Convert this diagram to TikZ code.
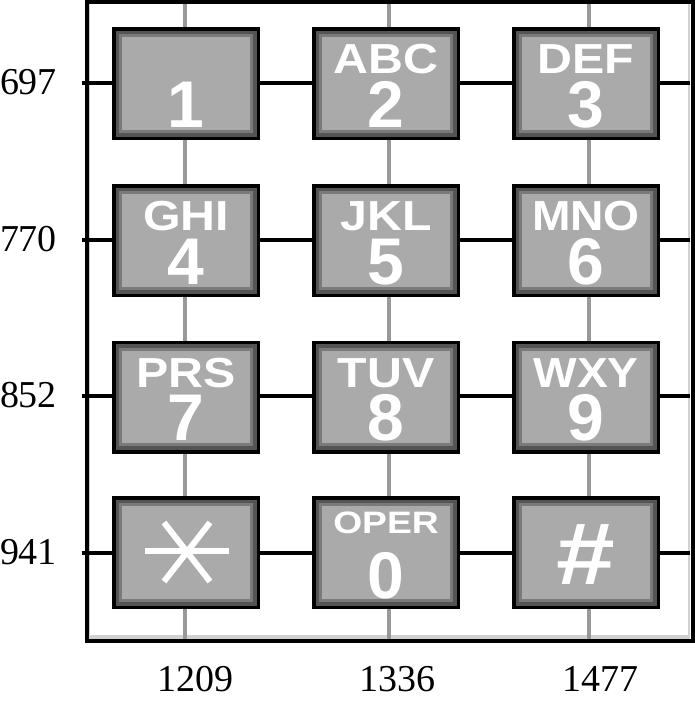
\documentclass[tikz,border=0pt]{standalone}
\usepackage{fontspec}
\setmainfont{Liberation Serif}
\setsansfont{Liberation Sans}
\definecolor{keydark}{gray}{0.33}
\definecolor{keymid}{gray}{0.48}
\definecolor{keyface}{gray}{0.665}
\definecolor{colgray}{gray}{0.6}
\definecolor{frameshade}{gray}{0.82}
\newcommand{\widetxt}[2]{\scalebox{#1}[1]{#2}}

\begin{document}
\begin{tikzpicture}[
          x=1pt, y=-1pt,
          rowline/.style={draw=black,line width=3.5pt},
          colline/.style={draw=colgray,line width=4pt},
          key/.style={draw=black,line width=3.5pt,fill=keydark,inner sep=0pt,
            minimum width=144.5pt,minimum height=109.5pt,
            path picture={
              \fill[keymid] ([shift={(5.5,5.5)}]path picture bounding box.north west)
                rectangle ([shift={(-5.5,-5.5)}]path picture bounding box.south east);
              \fill[keyface] ([shift={(8.5,8.5)}]path picture bounding box.north west)
                rectangle ([shift={(-8.5,-8.5)}]path picture bounding box.south east);
            }},
          digit/.style={text=white,inner sep=0pt,text height=47pt,text depth=0pt,
            font=\sffamily\bfseries\fontsize{66}{66}\selectfont},
          letters/.style={text=white,inner sep=0pt,text height=30pt,text depth=0pt,
            font=\sffamily\bfseries\fontsize{42}{42}\selectfont},
          small/.style={text=white,inner sep=0pt,text height=22pt,text depth=0pt,
            font=\sffamily\bfseries\fontsize{31}{31}\selectfont},
          freq/.style={inner sep=0pt,font=\fontsize{38}{38}\selectfont},
          star/.style={draw=white,line width=6pt},
        ]
        \useasboundingbox (0,0) rectangle (695,704);

        % inner shade of the frame
        \draw[frameshade,line width=4pt] (89,637) -- (690,637);
        \draw[frameshade,line width=2pt] (689,4) -- (689,639);
        \draw[frameshade,line width=1pt] (89.5,4) -- (89.5,639);

        % row and column lines
        \coordinate (r1w) at (82,83);   \coordinate (r1e) at (690,83);
        \coordinate (r2w) at (82,240);  \coordinate (r2e) at (690,240);
        \coordinate (r3w) at (82,396);  \coordinate (r3e) at (690,396);
        \coordinate (r4w) at (82,553);  \coordinate (r4e) at (690,553);
        \coordinate (c1n) at (185,3);   \coordinate (c1s) at (185,639);
        \coordinate (c2n) at (389,3);   \coordinate (c2s) at (389,639);
        \coordinate (c3n) at (589,3);   \coordinate (c3s) at (589,639);

        \draw[colline] (c1n) -- (c1s);
        \draw[colline] (c2n) -- (c2s);
        \draw[colline] (c3n) -- (c3s);
        \draw[rowline] (r1w) -- (r1e);
        \draw[rowline] (r2w) -- (r2e);
        \draw[rowline] (r3w) -- (r3e);
        \draw[rowline] (r4w) -- (r4e);

        \draw[line width=4pt] (86.5,1.5) rectangle (692.5,641);

        % keys
        \node[key] (k1) at (186,83.5) {};
        \node[key] (k2) at (386,83.5) {};
        \node[key] (k3) at (586,83.5) {};
        \node[key] (k4) at (186,240.5) {};
        \node[key] (k5) at (386,240.5) {};
        \node[key] (k6) at (586,240.5) {};
        \node[key] (k7) at (186,397) {};
        \node[key] (k8) at (386,397) {};
        \node[key] (k9) at (586,397) {};
        \node[key] (kstar) at (186,552.5) {};
        \node[key] (k0) at (386,552.5) {};
        \node[key] (khash) at (586,552.5) {};

        \node[digit] (d1) at ([yshift=-20pt]k1.center) {1};
        \node[digit] (d2) at ([yshift=-20pt]k2.center) {2};
        \node[digit] (d3) at ([yshift=-20pt]k3.center) {3};
        \node[digit] (d4) at ([yshift=-20pt]k4.center) {4};
        \node[digit] (d5) at ([yshift=-20pt]k5.center) {5};
        \node[digit] (d6) at ([yshift=-20pt]k6.center) {6};
        \node[digit] (d7) at ([yshift=-20pt]k7.center) {7};
        \node[digit] (d8) at ([yshift=-20pt]k8.center) {8};
        \node[digit] (d9) at ([yshift=-20pt]k9.center) {9};
        \node[digit] (d0) at ([yshift=-22pt]k0.center) {0};
        \node[digit,text height=62pt] (dhash) at ([yshift=-1pt]khash.center) {\widetxt{1.2}{\fontsize{88}{88}\selectfont\#}};

        \node[letters] (l2) at ([yshift=25pt]k2.center) {\widetxt{1.15}{ABC}};
        \node[letters] (l3) at ([yshift=25pt]k3.center) {\widetxt{1.15}{DEF}};
        \node[letters] (l4) at ([yshift=25pt]k4.center) {\widetxt{1.15}{GHI}};
        \node[letters] (l5) at ([yshift=25pt]k5.center) {\widetxt{1.15}{JKL}};
        \node[letters] (l6) at ([yshift=25pt]k6.center) {\widetxt{1.1}{MNO}};
        \node[letters] (l7) at ([yshift=25pt]k7.center) {\widetxt{1.15}{PRS}};
        \node[letters] (l8) at ([yshift=25pt]k8.center) {\widetxt{1.15}{TUV}};
        \node[letters] (l9) at ([yshift=25pt]k9.center) {\widetxt{1.1}{WXY}};
        \node[small] (l0) at ([yshift=30pt]k0.center) {\widetxt{1.2}{OPER}};

        % the star key
        \draw[star] ([shift={(-41,-1.5)}]kstar.center) -- ([shift={(43,-1.5)}]kstar.center);
        \draw[star] ([shift={(-22,-30)}]kstar.center) -- ([shift={(24,29)}]kstar.center);
        \draw[star] ([shift={(24,-30)}]kstar.center) -- ([shift={(-22,29)}]kstar.center);

        % frequencies
        \path (28.5,82) node[freq] (f697) {697};
        \path (28.5,239) node[freq] (f770) {770};
        \path (28.5,395) node[freq] (f852) {852};
        \path (28.5,552) node[freq] (f941) {941};
        \path (195,679) node[freq] (f1209) {1209};
        \path (397,679) node[freq] (f1336) {1336};
        \path (600,679) node[freq] (f1477) {1477};

      \end{tikzpicture}
\end{document}
